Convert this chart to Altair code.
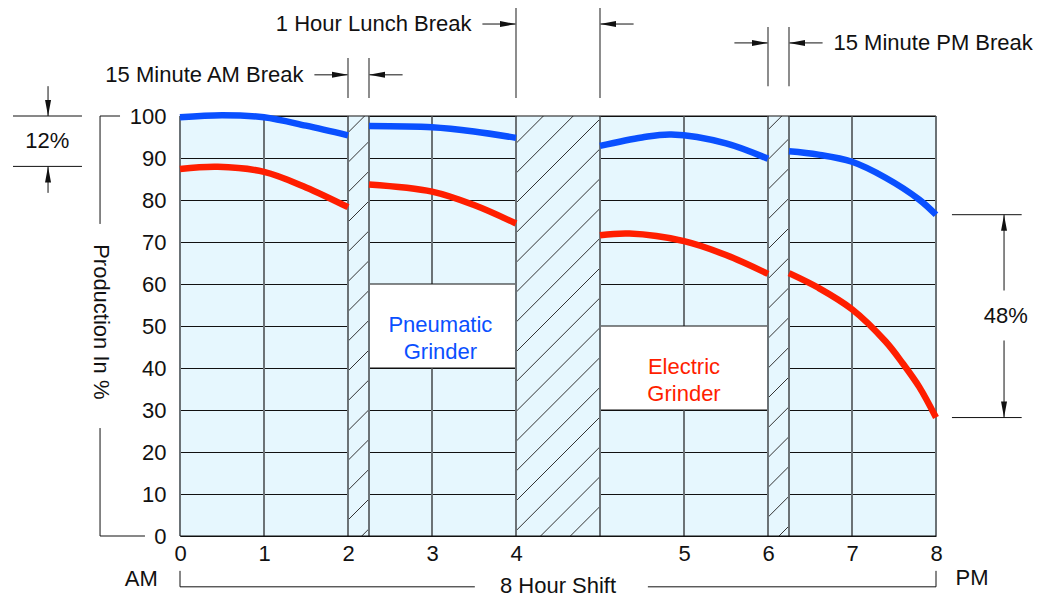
import altair as alt
import pandas as pd

# ---------------- chart data (x = elapsed clock hours, lunch hour included) -------------
pneumatic_t = [0, 0.5, 1, 1.5, 2, 2.25, 3, 3.5, 4, 5, 5.5, 5.85, 6.5, 7,
               7.25, 7.6, 8, 8.4, 8.8, 9]
pneumatic_v = [99.7, 100.2, 99.7, 97.7, 95.4, 97.6, 97.3, 96.3, 94.8, 92.9, 94.9, 95.6, 93.5, 89.8,
               91.6, 90.8, 89.1, 85.3, 80.1, 76.5]
pneumatic_seg = [1, 1, 1, 1, 1, 2, 2, 2, 2, 3, 3, 3, 3, 3, 4, 4, 4, 4, 4, 4]

electric_t = [0, 0.45, 1, 1.5, 2, 2.25, 3, 3.5, 4, 5, 5.35, 6, 6.5, 7,
              7.25, 7.6, 8, 8.4, 8.6, 8.8, 9]
electric_v = [87.4, 87.9, 86.7, 83.0, 78.3, 83.7, 82.0, 78.8, 74.4, 71.6, 72.0, 70.2, 66.9, 62.4,
              62.6, 59.1, 54.0, 46.3, 41.2, 35.5, 28.2]
electric_seg = [1, 1, 1, 1, 1, 2, 2, 2, 2, 3, 3, 3, 3, 3, 4, 4, 4, 4, 4, 4, 4]

x_tick_pos = [0, 1, 2, 3, 4, 6, 7, 8, 9]
x_tick_lab = ["0", "1", "2", "3", "4", "5", "6", "7", "8"]
y_tick_val = [0, 10, 20, 30, 40, 50, 60, 70, 80, 90, 100]

break_start = [2.0, 4.0, 7.0]
break_end = [2.25, 5.0, 7.25]
break_label = ["15 Minute AM Break", "1 Hour Lunch Break", "15 Minute PM Break"]
break_label_side = ["left", "left", "right"]
break_mark_top = [113.8, 125.7, 121.2]
break_mark_bottom = [104.3, 104.3, 107.1]
break_arrow_y = [109.8, 121.9, 117.4]

grid_x_inner = [1, 3, 6, 8]
edge_x = [0, 2, 2.25, 4, 5, 7, 7.25, 9]

box_x0 = [2.25, 5.0]
box_x1 = [4.0, 7.0]
box_y0 = [40, 30]
box_y1 = [60, 50]
box_text = ["Pneumatic\nGrinder", "Electric\nGrinder"]
box_text_x = [3.1, 6.0]
box_text_y = [50.2, 40.2]

am_spread = [100, 88]
pm_spread = [pneumatic_v[-1], electric_v[-1]]

# ---------------- style / layout ----------------
W, H = 756, 420
X_MAX, Y_MAX = 9.0, 100.0
PXH = W / X_MAX
PXV = H / Y_MAX
FONT = "Liberation Sans"
FS = 22
BG = "#e6f7fe"
BLUE = "#0a50ff"
RED = "#ff1e00"
GRID_V = "#6b7276"
INK = "#111111"
ARROW_LEN = 0.4
LABEL_GAP = 0.13
HATCH_STEP = 29.8
HATCH_OFF = 3.0

xs = alt.Scale(domain=[0, X_MAX], nice=False, zero=False)
ys = alt.Scale(domain=[0, Y_MAX], nice=False, zero=False)

label_expr = " : ".join(
    f"datum.value == {p} ? '{l}'" for p, l in zip(x_tick_pos, x_tick_lab)
) + " : ''"

X_AXIS = alt.Axis(
    values=x_tick_pos, labelExpr=label_expr, grid=False, ticks=False, domain=False,
    labelFontSize=FS, labelFont=FONT, labelColor=INK, labelPadding=7,
    labelAngle=0, labelFlush=False, labelOverlap=False, title=None)
Y_AXIS = alt.Axis(
    values=y_tick_val, grid=True, gridColor=INK, gridWidth=1, ticks=False, domain=False,
    labelFontSize=FS, labelFont=FONT, labelColor=INK, labelPadding=14,
    labelFlush=False, labelOverlap=False, title=None)


def X(f="x"):
    return alt.X(f"{f}:Q", scale=xs, axis=X_AXIS)


def Y(f="y"):
    return alt.Y(f"{f}:Q", scale=ys, axis=Y_AXIS)


# ---------------- derived tables ----------------
curves = pd.DataFrame(
    {"t": pneumatic_t, "v": pneumatic_v, "seg": pneumatic_seg}
)
curves_e = pd.DataFrame(
    {"t": electric_t, "v": electric_v, "seg": electric_seg}
)

breaks = pd.DataFrame({"x": break_start, "x2": break_end, "y": 0, "y2": Y_MAX})

# hatch lines clipped to each break rectangle (45 degree in screen space)
hatch_rows = []
for a, b in zip(break_start, break_end):
    u0, u1 = a * PXH, b * PXH
    k = int((u0 - H - HATCH_OFF) // HATCH_STEP) - 1
    while True:
        c = HATCH_OFF + k * HATCH_STEP
        if c > u1:
            break
        us, ue = max(u0, c), min(u1, c + H)
        if ue - us > 0.5:
            hatch_rows.append({"x": us / PXH, "y": (us - c) / PXV,
                               "x2": ue / PXH, "y2": (ue - c) / PXV})
        k += 1
hatch = pd.DataFrame(hatch_rows)

boxes = pd.DataFrame({"x": box_x0, "x2": box_x1, "y": box_y0, "y2": box_y1})
box_labels = pd.DataFrame({"x": box_text_x, "y": box_text_y, "text": box_text,
                           "c": ["Pneumatic", "Electric"]})

lines, tips, gray_lines, texts = [], [], [], []
R = "M0,0L-1.6,-0.3L-1.6,0.3Z"
L = "M0,0L1.6,-0.3L1.6,0.3Z"
D = "M0,0L-0.3,-1.6L0.3,-1.6Z"
U = "M0,0L-0.3,1.6L0.3,1.6Z"


def seg(x, y, x2, y2):
    lines.append({"x": x, "y": y, "x2": x2, "y2": y2})


for a, b, lab, side, top, bot, ay in zip(break_start, break_end, break_label, break_label_side,
                                          break_mark_top, break_mark_bottom, break_arrow_y):
    gray_lines.append({"x": a, "y": bot, "y2": top})
    gray_lines.append({"x": b, "y": bot, "y2": top})
    seg(a - ARROW_LEN, ay, a, ay)
    seg(b + ARROW_LEN, ay, b, ay)
    tips.append({"x": a, "y": ay, "shape": R})
    tips.append({"x": b, "y": ay, "shape": L})
    if side == "left":
        texts.append({"x": a - ARROW_LEN - LABEL_GAP, "y": ay, "text": lab, "align": "right"})
    else:
        texts.append({"x": b + ARROW_LEN + LABEL_GAP, "y": ay, "text": lab, "align": "left"})

# 12% dimension (left)
for yv in am_spread:
    seg(-1.988, yv, -1.167, yv)
seg(-1.571, am_spread[0] + 7.1, -1.571, am_spread[0])
seg(-1.571, am_spread[1] - 6.3, -1.571, am_spread[1])
tips.append({"x": -1.571, "y": am_spread[0], "shape": D})
tips.append({"x": -1.571, "y": am_spread[1], "shape": U})
texts.append({"x": -1.58, "y": sum(am_spread) / 2,
              "text": f"{round(am_spread[0] - am_spread[1])}%", "align": "center"})

# 48% dimension (right)
for yv in pm_spread:
    seg(9.19, yv, 10.02, yv)
mid = sum(pm_spread) / 2
seg(9.81, mid + 6.1, 9.81, pm_spread[0])
seg(9.81, mid - 5.8, 9.81, pm_spread[1])
tips.append({"x": 9.81, "y": pm_spread[0], "shape": U})
tips.append({"x": 9.81, "y": pm_spread[1], "shape": D})
texts.append({"x": 9.83, "y": mid, "text": f"{round(pm_spread[0] - pm_spread[1])}%",
              "align": "center"})

# y-title bracket
seg(-0.952, 100, -0.952, 74.3)
seg(-0.952, 25.7, -0.952, 0)
seg(-0.952, 100, -0.714, 100)
seg(-0.952, 0, -0.417, 0)

# shift bracket
seg(0, -8.3, 0, -12.1)
seg(9, -8.3, 9, -12.1)
seg(0, -12.1, 3.51, -12.1)
seg(5.57, -12.1, 9, -12.1)
texts.append({"x": 4.5, "y": -11.8, "text": "8 Hour Shift", "align": "center"})
texts.append({"x": -0.46, "y": -10.2, "text": "AM", "align": "center"})
texts.append({"x": 9.43, "y": -10.0, "text": "PM", "align": "center"})

lines_df = pd.DataFrame(lines)
tips_df = pd.DataFrame(tips)
gray_df = pd.DataFrame(gray_lines)
texts_df = pd.DataFrame(texts)

# ---------------- layers ----------------
break_layer = alt.Chart(breaks).mark_rect(fill=BG, strokeWidth=0).encode(
    x=X(), x2="x2", y=Y(), y2="y2")

inner_grid = alt.Chart(pd.DataFrame({"x": grid_x_inner})).mark_rule(
    color=GRID_V, strokeWidth=2).encode(x=X(), y=alt.value(0), y2=alt.value(H))

box_layer = alt.Chart(boxes).mark_rect(fill="white", stroke=INK, strokeWidth=1).encode(
    x=X(), x2="x2", y=Y(), y2="y2")

hatch_layer = alt.Chart(hatch).mark_rule(color="#333333", strokeWidth=1).encode(
    x=X(), y=Y(), x2="x2", y2="y2")

edge_layer = alt.Chart(pd.DataFrame({"x": edge_x})).mark_rule(
    color=GRID_V, strokeWidth=2).encode(x=X(), y=alt.value(0), y2=alt.value(H))

border_layer = alt.Chart(pd.DataFrame({"y": [0, 100]})).mark_rule(
    color=INK, strokeWidth=1).encode(y=Y(), x=alt.value(0), x2=alt.value(W))

blue_line = alt.Chart(curves).mark_line(
    color=BLUE, strokeWidth=6.5, interpolate="catmull-rom", strokeCap="butt").encode(
    x=X("t"), y=Y("v"), detail="seg:N")
red_line = alt.Chart(curves_e).mark_line(
    color=RED, strokeWidth=6.5, interpolate="catmull-rom", strokeCap="butt").encode(
    x=X("t"), y=Y("v"), detail="seg:N")

box_text_layer = alt.Chart(box_labels).mark_text(
    font=FONT, fontSize=FS, lineBreak="\n", lineHeight=27, align="center",
    baseline="middle").encode(
    x=X(), y=Y(), text="text:N",
    color=alt.Color("c:N", scale=alt.Scale(domain=["Pneumatic", "Electric"],
                                           range=[BLUE, RED]), legend=None))

ann_lines = alt.Chart(lines_df).mark_rule(color=INK, strokeWidth=1).encode(
    x=X(), y=Y(), x2="x2", y2="y2")
gray_ann = alt.Chart(gray_df).mark_rule(color="#707070", strokeWidth=1.6).encode(
    x=X(), y=Y(), y2="y2")
tip_layer = alt.Chart(tips_df).mark_point(
    filled=True, color=INK, opacity=1, size=400, strokeWidth=0).encode(
    x=X(), y=Y(), shape=alt.Shape("shape:N", scale=None))

text_layers = []
for al in ["left", "center", "right"]:
    sub = texts_df[texts_df["align"] == al]
    if len(sub):
        text_layers.append(alt.Chart(sub).mark_text(
            font=FONT, fontSize=FS, color=INK, align=al, baseline="middle").encode(
            x=X(), y=Y(), text="text:N"))

ytitle = alt.Chart(pd.DataFrame({"x": [-0.94], "y": [51], "text": ["Production In %"]})).mark_text(
    font=FONT, fontSize=FS, color=INK, angle=90, align="center", baseline="middle").encode(
    x=X(), y=Y(), text="text:N")

chart = alt.layer(
    break_layer, inner_grid, box_layer, hatch_layer, edge_layer, border_layer,
    blue_line, red_line, box_text_layer, ann_lines, gray_ann, tip_layer, ytitle, *text_layers
).properties(
    width=W, height=H,
    autosize=alt.AutoSizeParams(type="none"),
    padding={"left": 172, "top": 108, "right": 104, "bottom": 62},
).configure_view(fill=BG, stroke="transparent")

chart.save("out.html", embed_options={"renderer": "svg", "actions": False})
